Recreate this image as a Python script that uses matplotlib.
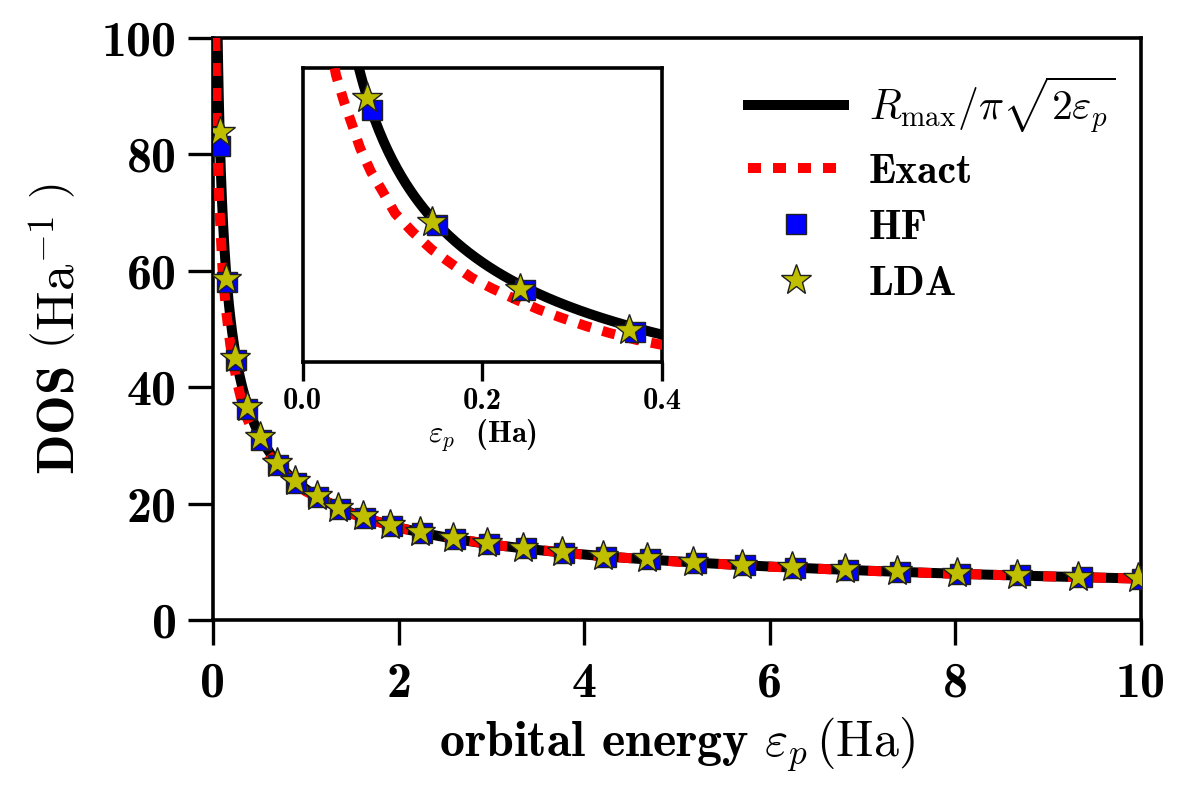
import numpy as np
import matplotlib
matplotlib.use("Agg")
import matplotlib.pyplot as plt

plt.rcParams["mathtext.fontset"] = "cm"
plt.rcParams["font.family"] = ["DejaVu Serif"]
NEGRITO = "cmb10"   # Computer Modern bold que vem com o matplotlib

# ---------------------------------------------------------------------------
# Dados
# ---------------------------------------------------------------------------

# curva analitica da legenda: R_max / (pi * sqrt(2 eps))
R_MAX = 100.0

# curva "Exact" (lida ponto a ponto)
eps_exact = [0.025, 0.037, 0.046, 0.055, 0.064, 0.076, 0.089, 0.103, 0.122, 0.144,
             0.166, 0.188, 0.211, 0.238, 0.263, 0.290, 0.316, 0.342, 0.372, 0.400,
             0.5, 0.7, 1.0, 1.5, 2.0, 3.0, 4.0, 5.0, 6.0, 7.0, 8.0, 9.0, 10.0]
dos_exact = [100.0, 88.6, 83.1, 78.4, 73.6, 68.8, 64.8, 60.3, 56.6, 52.9,
             50.0, 47.2, 45.0, 42.7, 40.7, 38.9, 37.3, 35.9, 34.5, 33.5,
             30.6, 26.2, 22.1, 18.2, 15.8, 12.95, 11.2, 10.03, 9.16, 8.48, 7.94, 7.49, 7.1]

# HF
eps_hf = [0.077, 0.150, 0.248, 0.370, 0.515, 0.697, 0.897, 1.132, 1.367, 1.638,
          1.927, 2.253, 2.612, 2.974, 3.370, 3.786, 4.236, 4.705, 5.209, 5.731,
          6.272, 6.847, 7.406, 8.053, 8.700, 9.367, 10.01]
dos_hf = [81.4, 58.0, 44.7, 36.2, 31.0, 26.7, 23.6, 21.1, 19.1, 17.6,
          16.2, 15.0, 14.0, 13.1, 12.3, 11.5, 10.9, 10.4, 9.85, 9.4,
          9.0, 8.6, 8.3, 7.95, 7.65, 7.35, 7.1]

# LDA
eps_lda = [0.072, 0.144, 0.242, 0.363, 0.506, 0.686, 0.884, 1.117, 1.350, 1.620,
           1.907, 2.231, 2.589, 2.949, 3.344, 3.758, 4.206, 4.673, 5.176, 5.697,
           6.236, 6.810, 7.367, 8.014, 8.660, 9.325, 9.970]
dos_lda = [83.8, 58.6, 45.0, 36.6, 31.4, 27.0, 23.9, 21.3, 19.3, 17.8,
           16.4, 15.2, 14.1, 13.3, 12.4, 11.6, 11.0, 10.6, 9.9, 9.5,
           9.05, 8.7, 8.35, 8.05, 7.75, 7.45, 7.15]

x_ticks = [0, 2, 4, 6, 8, 10]
y_ticks = [0, 20, 40, 60, 80, 100]
inset_ticks = [0.0, 0.2, 0.4]

# ---------------------------------------------------------------------------
# Figura
# ---------------------------------------------------------------------------

eps_curve = np.linspace(0.01, 10, 4000)
dos_curve = R_MAX / (np.pi * np.sqrt(2 * eps_curve))

fig = plt.figure(figsize=(11.83, 8.05), dpi=100)
ax = fig.add_axes([0.180, 0.2298, 0.7845, 0.723])


def desenhar(eixo):
    eixo.plot(eps_curve, dos_curve, color="black", lw=7.2, zorder=2,
              label=r"$R_{\max}/\pi\sqrt{2\varepsilon_p}$")
    eixo.plot(eps_exact, dos_exact, color="red", lw=7.2, ls=(0, (1.3, 1.2)),
              zorder=3, label="Exact")
    eixo.plot(eps_hf, dos_hf, ls="none", marker="s", ms=15, mfc="blue",
              mec="#202020", mew=1.0, zorder=4, label="HF")
    eixo.plot(eps_lda, dos_lda, ls="none", marker="*", ms=23, mfc="#bfbf00",
              mec="#202020", mew=1.0, zorder=5, label="LDA")


desenhar(ax)
ax.set_xlim(0, 10)
ax.set_ylim(0, 100)
ax.set_xticks(x_ticks, labels=[str(v) for v in x_ticks], fontfamily=NEGRITO)
ax.set_yticks(y_ticks, labels=[str(v) for v in y_ticks], fontfamily=NEGRITO)
ax.tick_params(direction="out", length=18, width=2.4, labelsize=36,
               top=False, right=False)
ax.tick_params(axis="x", pad=12)
ax.tick_params(axis="y", pad=8)
for s in ax.spines.values():
    s.set_linewidth(2.6)
ax.set_xlabel(r"orbital energy $\varepsilon_p\,(\mathrm{Ha})$", fontsize=36,
              fontfamily=NEGRITO, labelpad=6)
ax.set_ylabel(r"DOS $\left(\mathrm{Ha}^{-1}\;\right)$", fontsize=38,
              fontfamily=NEGRITO, labelpad=12)

leg = ax.legend(loc="upper left", bbox_to_anchor=(748 / 1183, 1 - 74 / 805),
                bbox_transform=fig.transFigure, frameon=False,
                prop={"family": NEGRITO, "size": 30},
                numpoints=1, handlelength=2.3, handletextpad=0.6,
                labelspacing=0.45, borderpad=0, borderaxespad=0)

# inset
axi = fig.add_axes([0.2559, 0.5503, 0.3037, 0.3652])
desenhar(axi)
axi.set_xlim(0, 0.4)
axi.set_ylim(30, 90)
axi.set_xticks(inset_ticks, labels=["%.1f" % v for v in inset_ticks], fontfamily=NEGRITO)
axi.set_yticks([])
axi.tick_params(direction="out", length=14, width=2.4, labelsize=22, pad=5,
                top=False, right=False)
for s in axi.spines.values():
    s.set_linewidth(2.6)
axi.set_xlabel(r"$\varepsilon_p$  (Ha)", fontsize=22, fontfamily=NEGRITO, labelpad=1)

fig.savefig("out.png", dpi=100)
